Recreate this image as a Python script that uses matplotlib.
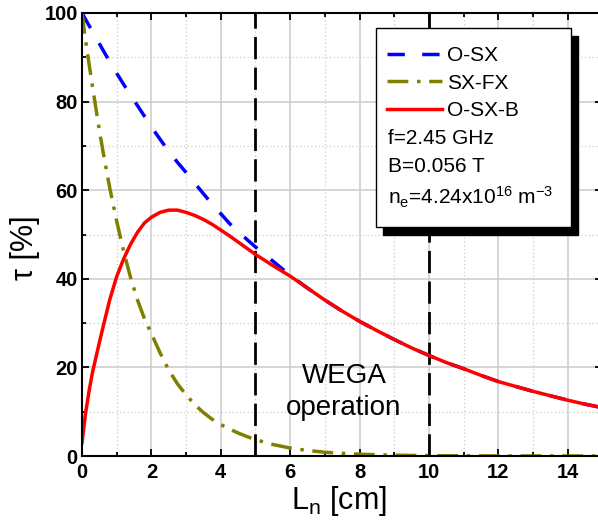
import matplotlib
matplotlib.use("Agg")
import matplotlib.pyplot as plt
from matplotlib.patches import Rectangle
from matplotlib.ticker import MultipleLocator

plt.rcParams['font.family'] = ['Liberation Sans', 'DejaVu Sans']
plt.rcParams['mathtext.fontset'] = 'custom'
plt.rcParams['mathtext.rm'] = 'Liberation Sans'
plt.rcParams['mathtext.it'] = 'Liberation Sans:italic'
plt.rcParams['mathtext.bf'] = 'Liberation Sans:bold'
plt.rcParams['mathtext.default'] = 'regular'

# density scale length L_n [cm]
L_n = [0, 0.1, 0.2, 0.3, 0.4, 0.5, 0.6, 0.8, 1.0, 1.2, 1.4, 1.6, 1.8, 2.0,
       2.25, 2.5, 2.75, 3.0, 3.25, 3.5, 3.75, 4.0, 4.25, 4.5, 4.75, 5.0,
       5.5, 6.0, 6.5, 7.0, 7.5, 8.0, 8.5, 9.0, 9.5, 10.0, 10.5, 11.0, 11.5,
       12.0, 12.5, 13.0, 13.5, 14.0, 14.5, 15.0]

# conversion efficiency tau [%]
tau_osx = [100, 98.6, 97.2, 95.9, 94.5, 93.1, 91.7, 89.0, 86.4, 83.9, 81.4,
           79.1, 76.7, 74.3, 71.5, 68.8, 66.3, 64.0, 61.6, 59.2, 56.9, 54.7,
           52.5, 50.7, 48.9, 47.2, 44.0, 40.8, 37.9, 35.2, 32.7, 30.4, 28.3,
           26.3, 24.4, 22.7, 21.1, 19.7, 18.2, 16.8, 15.7, 14.6, 13.6, 12.6,
           11.7, 10.9]
tau_sxfx = [100, 94.0, 88.7, 83.5, 78.5, 73.5, 69.0, 60.5, 53.0, 46.2, 40.3,
            35.2, 31.0, 27.6, 23.3, 19.4, 16.3, 13.8, 11.6, 9.8, 8.3, 7.1,
            6.1, 5.2, 4.4, 3.7, 2.6, 1.8, 1.25, 0.85, 0.6, 0.4, 0.28, 0.19,
            0.13, 0.09, 0.06, 0.04, 0.03, 0.02, 0.01, 0.01, 0.01, 0.01, 0.01,
            0.01]
tau_osxb = [3.0, 9.5, 14.5, 18.8, 22.2, 25.6, 28.9, 35.3, 40.5, 44.5, 47.8,
            50.5, 52.6, 53.9, 55.0, 55.5, 55.5, 55.0, 54.3, 53.4, 52.3, 51.0,
            49.7, 48.3, 46.9, 45.5, 43.0, 40.6, 37.9, 35.2, 32.7, 30.4, 28.3,
            26.3, 24.4, 22.7, 21.1, 19.7, 18.2, 16.8, 15.7, 14.6, 13.6, 12.6,
            11.7, 10.9]

# limits of the WEGA operating range
wega_limits = [5, 10]

W, H = 598, 528
fig = plt.figure(figsize=(W / 100, H / 100), dpi=100)
ax = fig.add_axes([82 / W, 1 - 456 / H, 520.4 / W, 443 / H])

ax.set_xlim(0, 15)
ax.set_ylim(0, 100)
ax.xaxis.set_major_locator(MultipleLocator(2))
ax.xaxis.set_minor_locator(MultipleLocator(1))
ax.yaxis.set_major_locator(MultipleLocator(20))
ax.yaxis.set_minor_locator(MultipleLocator(10))

ax.set_axisbelow(True)
ax.grid(which='major', color='#cccccc', lw=1.1, ls='-')
ax.grid(which='minor', color='#cccccc', lw=0.9, ls=(0, (1, 2)))

ax.tick_params(which='both', direction='in', top=True, right=True,
               width=1.3)
ax.tick_params(which='major', length=5)
ax.tick_params(which='minor', length=3)
ax.tick_params(axis='x', which='major', pad=5, labelsize=14.5)
ax.tick_params(axis='y', which='major', pad=3, labelsize=14.5)
for lab in ax.get_xticklabels() + ax.get_yticklabels():
    lab.set_fontweight('bold')
for sp in ax.spines.values():
    sp.set_linewidth(1.5)

for xv in wega_limits:
    ax.axvline(xv, color='black', lw=2, dashes=(8, 3), zorder=1.5)

l1, = ax.plot(L_n, tau_osx, color='#0000ff', lw=2.5, dashes=(5, 5),
              label='O-SX', zorder=2)
l2, = ax.plot(L_n, tau_sxfx, color='#808000', lw=2.5,
              dashes=(6, 2.5, 1, 2.5), label='SX-FX', zorder=2.1)
l3, = ax.plot(L_n, tau_osxb, color='#ff0000', lw=2.5, label='O-SX-B',
              zorder=2.2)

ax.text(7.57, 16.4, 'WEGA', ha='center', va='baseline', fontsize=20)
ax.text(7.55, 9.25, 'operation', ha='center', va='baseline', fontsize=20)

ax.set_xlabel('L$_n$ [cm]', fontsize=22)
ax.set_ylabel('τ [%]', fontsize=22)
ax.xaxis.set_label_coords((339 - 82) / 520.4, (456 - 484) / 443)
ax.yaxis.set_label_coords((40 - 82) / 520.4, (456 - 247.5) / 443)

# legend box with drop shadow
bx0, by0, bx1, by1 = 376, 28, 571, 227
shadow = Rectangle(((bx0 + 7) / W, 1 - (by1 + 8) / H), (bx1 - bx0) / W,
                   (by1 - by0) / H, transform=fig.transFigure,
                   facecolor='black', edgecolor='black', zorder=5,
                   clip_on=False)
box = Rectangle((bx0 / W, 1 - by1 / H), (bx1 - bx0) / W, (by1 - by0) / H,
                transform=fig.transFigure, facecolor='white',
                edgecolor='black', lw=1.0, zorder=6, clip_on=False)
ax.add_patch(shadow)
ax.add_patch(box)

leg = ax.legend(handles=[l1, l2, l3], loc='upper left',
                bbox_to_anchor=(387 / W, 1 - 46.2 / H),
                bbox_transform=fig.transFigure, frameon=False,
                fontsize=15, handlelength=2.65, handletextpad=0.24,
                labelspacing=0.41, borderpad=0, borderaxespad=0)
leg.set_zorder(7)

params = ['f=2.45 GHz', 'B=0.056 T', 'n$_e$=4.24x10$^{16}$ m$^{-3}$']
baselines = [144, 171.5, 205]
for txt, yb in zip(params, baselines):
    ax.text(388 / W, 1 - yb / H, txt, transform=fig.transFigure,
            fontsize=15, va='baseline', ha='left', zorder=8)

fig.savefig('out.png', dpi=100)
